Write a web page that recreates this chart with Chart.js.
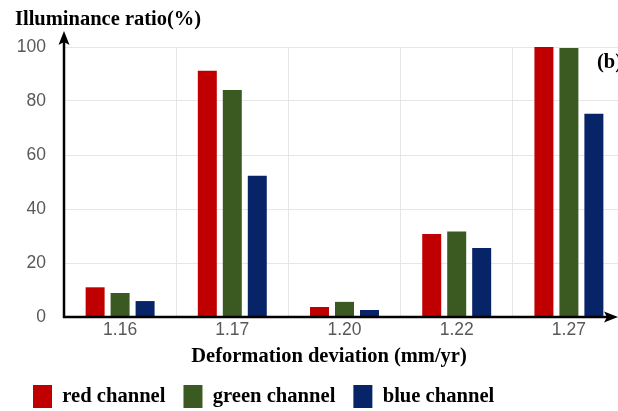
<!DOCTYPE html>
<html>
<head>
<meta charset="utf-8">
<script src="https://cdn.jsdelivr.net/npm/chart.js@4.4.1/dist/chart.umd.min.js"></script>
<style>
  html, body { margin: 0; padding: 0; background: #fff; overflow: hidden; }
  #frame { width: 618px; height: 411px; overflow: hidden; position: relative; }
  #box { width: 640px; height: 418px; position: absolute; left: 0; top: 0; }
</style>
</head>
<body>
<div id="frame"><div id="box"><canvas id="chart"></canvas></div></div>
<script>
// Deformation deviation categories (mm/yr)
const categories = ['1.16', '1.17', '1.20', '1.22', '1.27'];
// Illuminance ratio (%) per colour channel
const redChannel   = [11.0, 91.2, 3.7, 30.7, 100.0];
const greenChannel = [8.9, 84.1, 5.6, 31.7, 99.6];
const blueChannel  = [5.9, 52.3, 2.6, 25.6, 75.3];
const seriesNames  = ['red channel', 'green channel', 'blue channel'];
const yTicks       = [0, 20, 40, 60, 80, 100];

const SERIF = '"Liberation Serif", "Times New Roman", serif';
const SANS = '"Liberation Sans", Arial, sans-serif';

// Black axis lines with arrowheads, the x-axis title and the panel tag
const axisArrows = {
  id: 'axisArrows',
  afterDraw(chart) {
    const { ctx, chartArea: a } = chart;
    const y0 = chart.scales.y.getPixelForValue(0);
    const x0 = a.left;
    ctx.save();
    ctx.strokeStyle = '#000';
    ctx.fillStyle = '#000';
    ctx.lineWidth = 2.5;
    // y axis
    ctx.beginPath();
    ctx.moveTo(x0, y0 + 1);
    ctx.lineTo(x0, 40);
    ctx.stroke();
    ctx.beginPath();
    ctx.moveTo(x0, 31);
    ctx.lineTo(x0 + 5.5, 45);
    ctx.lineTo(x0, 42);
    ctx.lineTo(x0 - 5.5, 45);
    ctx.closePath();
    ctx.fill();
    // x axis
    ctx.beginPath();
    ctx.moveTo(x0 - 1, y0);
    ctx.lineTo(609, y0);
    ctx.stroke();
    ctx.beginPath();
    ctx.moveTo(618, y0);
    ctx.lineTo(604, y0 - 5.5);
    ctx.lineTo(607, y0);
    ctx.lineTo(604, y0 + 5.5);
    ctx.closePath();
    ctx.fill();
    // x axis title
    ctx.font = 'bold 20.5px ' + SERIF;
    ctx.textAlign = 'center';
    ctx.textBaseline = 'middle';
    ctx.fillText('Deformation deviation (mm/yr)', 329, 357);
    // panel tag
    ctx.textAlign = 'left';
    ctx.fillText('(b)', 597, 63);
    ctx.restore();
  }
};

new Chart(document.getElementById('chart'), {
  type: 'bar',
  data: {
    labels: categories,
    datasets: [
      { label: seriesNames[0], data: redChannel,   backgroundColor: '#C00000' },
      { label: seriesNames[1], data: greenChannel, backgroundColor: '#3B5A22' },
      { label: seriesNames[2], data: blueChannel,  backgroundColor: '#072468' }
    ]
  },
  options: {
    responsive: true,
    maintainAspectRatio: false,
    animation: false,
    devicePixelRatio: 1,
    layout: { padding: { left: 15, right: 15, top: 0, bottom: 0 } },
    datasets: { bar: { categoryPercentage: 0.668, barPercentage: 0.76, borderWidth: 0 } },
    plugins: {
      tooltip: { enabled: false },
      title: {
        display: true,
        text: 'Illuminance ratio(%)',
        align: 'start',
        color: '#000',
        font: { family: SERIF, size: 20.5, weight: 'bold' },
        padding: { top: 7, bottom: 15.4 }
      },
      legend: {
        position: 'bottom',
        align: 'start',
        labels: {
          color: '#000',
          font: { family: SERIF, size: 20.6, weight: 'bold' },
          boxWidth: 19,
          boxHeight: 23,
          padding: 18
        }
      }
    },
    scales: {
      x: {
        border: { display: false },
        grid: { display: true, offset: true, color: '#e6e6e6', lineWidth: 1, drawTicks: false },
        ticks: { color: '#595959', font: { family: SANS, size: 17.5 }, padding: 3, maxRotation: 0 },
        afterFit(scale) { scale.height = 50; }
      },
      y: {
        min: 0,
        max: 100,
        border: { display: false },
        grid: { color: '#e6e6e6', lineWidth: 1, drawTicks: false },
        afterBuildTicks(scale) { scale.ticks = yTicks.map(v => ({ value: v })); },
        ticks: { color: '#595959', font: { family: SANS, size: 17.5 }, padding: 18 },
        afterFit(scale) { scale.width = 49; }
      }
    }
  },
  plugins: [axisArrows]
});
</script>
</body>
</html>
